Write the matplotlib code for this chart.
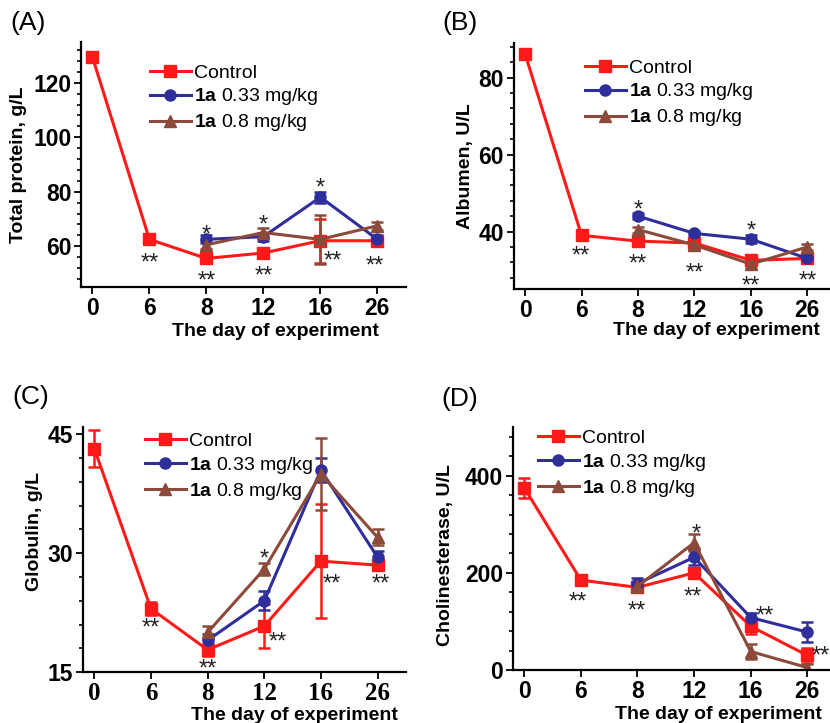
import matplotlib
matplotlib.use("Agg")
import matplotlib.pyplot as plt
from matplotlib.ticker import AutoMinorLocator
import numpy as np

plt.rcParams["font.family"] = "Liberation Sans"
plt.rcParams["mathtext.fontset"] = "custom"
plt.rcParams["mathtext.rm"] = "Liberation Sans"
plt.rcParams["mathtext.bf"] = "Liberation Sans:bold"

days = ["0", "6", "8", "12", "16", "26"]
labels = ["Control", r"$\mathbf{1a}$ 0.33 mg/kg", r"$\mathbf{1a}$ 0.8 mg/kg"]
colors = ["#ff1a1a", "#2e2e9c", "#8b4a3a"]
markers = ["s", "o", "^"]

# (A) total protein, g/L
tp_ctrl = [129.5, 62.5, 55.5, 57.5, 62, 62]
tp_ctrl_err = [1.5, 1, 1.5, 1.5, 8, 1]
tp_low = [62.5, 63.5, 78, 62.5]
tp_low_err = [1.5, 1.5, 2, 1.5]
tp_high = [60.5, 65, 62.5, 67.5]
tp_high_err = [1.5, 1.5, 9, 1.5]
tp_stars = [("**", 1, 56.7), ("*", 2, 67), ("**", 2, 50), ("*", 3, 70.7),
            ("**", 3, 51.9), ("*", 4, 84), ("**", 4.21, 57.4), ("**", 4.96, 55.6)]

# (B) albumen, U/L
al_ctrl = [86.2, 39, 37.5, 37, 32.5, 33]
al_ctrl_err = [1.2, 0.5, 0.7, 0.7, 0.8, 0.7]
al_low = [44, 39.5, 38, 33]
al_low_err = [0.8, 0.6, 1, 1]
al_high = [40.5, 36.5, 31.5, 36]
al_high_err = [0.8, 1.2, 1, 0.8]
al_stars = [("**", 0.99, 35.6), ("*", 2, 47.5), ("**", 2, 33.5), ("**", 3, 31.2),
            ("*", 4, 42), ("**", 4, 27.8), ("**", 5, 29.1)]

# (C) globulin, g/L
gl_ctrl = [43.2, 23, 17.8, 20.8, 29, 28.5]
gl_ctrl_err = [2.3, 0.8, 0.8, 2.8, 7.2, 0.5]
gl_low = [19, 24, 40.5, 29.5]
gl_low_err = [0.8, 1.2, 1.5, 0.8]
gl_high = [20, 28, 40, 32]
gl_high_err = [0.8, 0.8, 4.6, 1]
gl_stars = [("**", 1, 21.5), ("**", 2, 16.3), ("*", 3, 30.2), ("**", 3.24, 19.7),
            ("**", 4.2, 27.1), ("**", 5.05, 27.1)]

# (D) cholinesterase, U/L
ch_ctrl = [375, 185, 170, 200, 90, 30]
ch_ctrl_err = [20, 10, 10, 10, 15, 15]
ch_low = [178, 232, 108, 78]
ch_low_err = [12, 15, 10, 20]
ch_high = [172, 262, 38, 5]
ch_high_err = [10, 18, 15, 8]
ch_stars = [("**", 0.95, 155), ("**", 1.98, 138), ("*", 3.04, 295), ("**", 2.97, 167),
            ("**", 4.25, 127), ("**", 5.23, 45)]

fig = plt.figure(figsize=(8.3, 7.23), dpi=100)

panels = [
    dict(pos=[0.0976, 0.603, 0.3914, 0.339], ctrl=tp_ctrl, ce=tp_ctrl_err, low=tp_low, le=tp_low_err,
         high=tp_high, he=tp_high_err, stars=tp_stars, ylim=(45, 135), yticks=[60, 80, 100, 120],
         ylabel="Total protein, g/L", ylc=(-0.166, 0.5), xlc=(0.6, -0.145),
         leg=(0.212, 0.91), tag="(A)", tagpos=(0.013, 0.968), serif=False, xlim=(-0.2, 5.5)),
    dict(pos=[0.619, 0.600, 0.381, 0.3405], ctrl=al_ctrl, ce=al_ctrl_err, low=al_low, le=al_low_err,
         high=al_high, he=al_high_err, stars=al_stars, ylim=(25, 89), yticks=[40, 60, 80],
         ylabel="Albumen, U/L", ylc=(-0.127, 0.5), xlc=(0.64, -0.135),
         leg=(0.225, 0.935), tag="(B)", tagpos=(0.533, 0.968), serif=False, xlim=(-0.2, 5.4)),
    dict(pos=[0.1, 0.0705, 0.389, 0.3385], ctrl=gl_ctrl, ce=gl_ctrl_err, low=gl_low, le=gl_low_err,
         high=gl_high, he=gl_high_err, stars=gl_stars, ylim=(15, 45.9), yticks=[15, 30, 45],
         ylabel="Globulin, g/L", ylc=(-0.124, 0.575), xlc=(0.656, -0.143),
         leg=(0.192, 0.98), tag="(C)", tagpos=(0.015, 0.451), serif=True, xlim=(-0.2, 5.5)),
    dict(pos=[0.618, 0.0733, 0.382, 0.336], ctrl=ch_ctrl, ce=ch_ctrl_err, low=ch_low, le=ch_low_err,
         high=ch_high, he=ch_high_err, stars=ch_stars, ylim=(0, 500), yticks=[0, 200, 400],
         ylabel="Cholinesterase, U/L", ylc=(-0.186, 0.473), xlc=(0.647, -0.148),
         leg=(0.079, 0.99), tag="(D)", tagpos=(0.532, 0.448), serif=False, xlim=(-0.2, 5.4)),
]

x_all = np.arange(len(days))
x_treat = x_all[2:]
star_fs = 17

for p in panels:
    ax = fig.add_axes(p["pos"])
    series = [(x_all, p["ctrl"], p["ce"]), (x_treat, p["low"], p["le"]), (x_treat, p["high"], p["he"])]
    handles = []
    for (xs, ys, es), c, m in zip(series, colors, markers):
        h = ax.errorbar(xs, ys, yerr=es, color=c, marker=m, markersize=8, linewidth=2.2,
                        elinewidth=1.8, capsize=4, capthick=1.8)
        handles.append(h[0])
    for s, xv, yv in p["stars"]:
        # offset so the asterisk glyph is centred on (xv, yv)
        ax.annotate(s, (xv, yv), xytext=(0, -0.6 * star_fs), textcoords="offset points",
                    ha="center", va="baseline", fontsize=star_fs, color="#222222",
                    annotation_clip=False)

    ax.set_xlim(*p["xlim"])
    ax.set_ylim(*p["ylim"])
    ax.set_xticks(x_all)
    if p["serif"]:
        ax.set_xticklabels(days, fontsize=18, fontweight="bold", family="Liberation Serif")
    else:
        ax.set_xticklabels(days, fontsize=16.5, fontweight="bold")
    ax.set_yticks(p["yticks"])
    ax.yaxis.set_minor_locator(AutoMinorLocator(5))
    for t in ax.get_yticklabels():
        t.set_fontsize(16.5)
        t.set_fontweight("bold")
    ax.tick_params(axis="both", direction="out", width=1.3, length=5, pad=2)
    ax.tick_params(axis="y", which="minor", direction="out", width=1.2, length=3)
    ax.spines["top"].set_visible(False)
    ax.spines["right"].set_visible(False)
    ax.spines["left"].set_linewidth(1.6)
    ax.spines["bottom"].set_linewidth(1.6)

    ax.set_ylabel(p["ylabel"], fontsize=14, fontweight="bold")
    ax.yaxis.set_label_coords(*p["ylc"])
    ax.set_xlabel("The day of experiment", fontsize=14, fontweight="bold")
    ax.xaxis.set_label_coords(*p["xlc"])

    ax.legend(handles, labels, loc="upper left", bbox_to_anchor=p["leg"], frameon=False, fontsize=14,
              handlelength=2.1, handletextpad=0.15, labelspacing=0.25, borderaxespad=0, borderpad=0)
    fig.text(p["tagpos"][0], p["tagpos"][1], p["tag"], fontsize=19, va="center")

fig.savefig("out.png", dpi=100)
